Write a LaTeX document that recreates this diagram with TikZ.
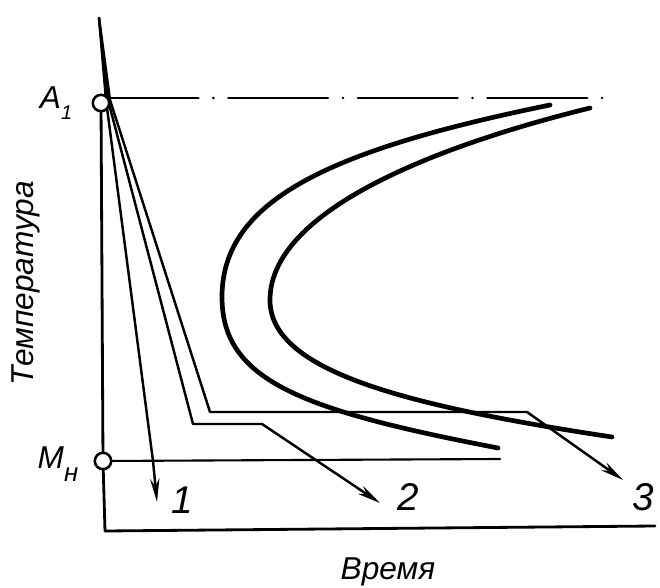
\documentclass[tikz,border=0pt]{standalone}
\usepackage{fontspec}
\setmainfont{Liberation Sans}
\usetikzlibrary{arrows.meta}
\pgfdeclarelayer{bg}
\pgfsetlayers{bg,main}
\begin{document}
\begin{tikzpicture}[x=0.03cm,y=-0.03cm,
  axisline/.style={line width=2.4pt,line cap=round,line join=round},
  thinline/.style={line width=1.8pt,line cap=round},
  dashdot/.style={line width=2.4pt,line cap=round,
    dash pattern=on 85pt off 12.8pt on 0pt off 12.8pt,dash phase=10pt},
  coolcurve/.style={line width=2.1pt,line join=round,line cap=round,
    -{Stealth[length=20pt,width=8pt]}},
  ccurve/.style={line width=4pt,line cap=round},
  pointmark/.style={circle,draw,fill=white,line width=2.2pt,minimum size=14pt,inner sep=0pt},
  lab/.style={font=\fontsize{27}{27}\selectfont\itshape,inner sep=0pt},
  numlab/.style={font=\fontsize{33}{33}\selectfont\itshape,inner sep=0pt}]
\useasboundingbox (0,0) rectangle (660,588);

% points on the temperature axis
\node[pointmark] (A) at (101,103) {};
\node[pointmark] (M) at (103,461) {};
\coordinate (O) at (105,531);
\coordinate (X) at (655,526);
\coordinate (Aend) at (605,98);
\coordinate (Mend) at (500,459);
\coordinate (T) at (99,18);

\begin{pgfonlayer}{bg}
% axes
\draw[axisline] (A) -- (M) -- (O) -- (X);
\draw[dashdot] (A.east |- 0,98) -- (Aend);
\draw[thinline] (M) -- (Mend);

% cooling curves
\draw[coolcurve] (T) -- (106,100) -- (153,461) -- (157,502);
\draw[coolcurve] (T) -- (108,100) -- (193,424) -- (262,424) -- (380,503);
\draw[coolcurve] (T) -- (110,100) -- (210,412) -- (527,412) -- (623,480);

% C-curves
\draw[ccurve] (550,105) .. controls (330,150) and (222,200) .. (222,297)
  .. controls (222,380) and (300,410) .. (498,448);
\draw[ccurve] (590,108) .. controls (420,150) and (270,215) .. (270,300)
  .. controls (270,370) and (400,405) .. (612,437);
\end{pgfonlayer}

% labels
\node[lab] (Alab) at (56,103) {A\raisebox{-9pt}{\fontsize{17}{17}\selectfont 1}};
\node[lab] (Mlab) at (58,464) {M\raisebox{-11pt}{\fontsize{22}{22}\selectfont н}};
\node[numlab] (l1) at (182,500) {1};
\node[numlab] (l2) at (408,497) {2};
\node[numlab] (l3) at (643,497) {3};
\node[lab,rotate=90] (ylab) at (26,283) {Температура};
\node[lab] (xlab) at (388,572) {Время};
\end{tikzpicture}
\end{document}
